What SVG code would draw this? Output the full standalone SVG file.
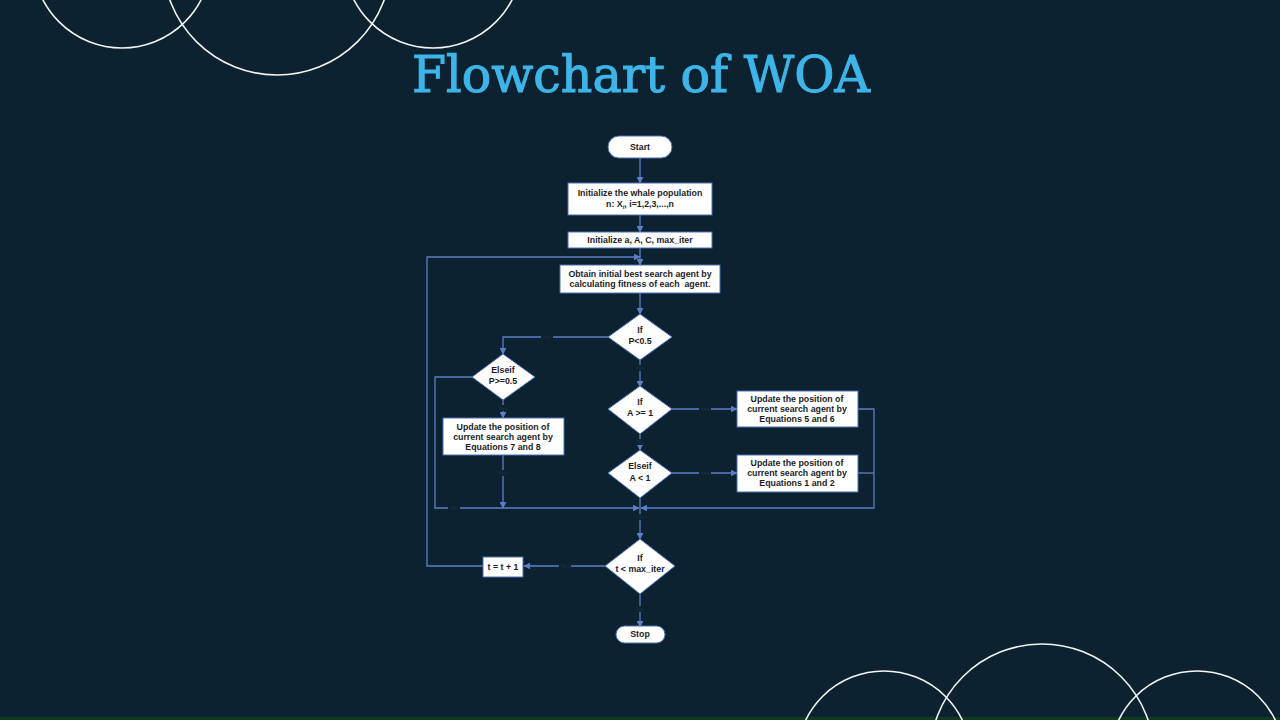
<svg xmlns="http://www.w3.org/2000/svg" width="1280" height="720" viewBox="0 0 1280 720">
<defs>
<style>
.bg{fill:#0c2230}
.deco{fill:none;stroke:#f2f4f6;stroke-width:1.6}
.title{font-family:"DejaVu Serif","Liberation Serif",serif;font-size:50px;fill:#3db5e8;stroke:#3db5e8;stroke-width:1.1}
.node{fill:#ffffff;stroke:#4a6fb5;stroke-width:1}
.t{font-family:"Liberation Sans",Arial,sans-serif;font-size:8.8px;font-weight:bold;fill:#1c1c28;text-anchor:middle;white-space:pre}
.edge{fill:none;stroke:#5b7fc6;stroke-width:1.3}
.lbl{font-family:"Liberation Sans",Arial,sans-serif;font-size:6px;fill:#1d3248;text-anchor:middle}
.lblbg{fill:#0c2230}
</style>
<marker id="ah" viewBox="0 0 10 10" refX="9" refY="5" markerWidth="7" markerHeight="7" markerUnits="userSpaceOnUse" orient="auto">
<path d="M0,0 L10,5 L0,10 z" fill="#5b7fc6"/>
</marker>
</defs>
<rect class="bg" x="0" y="0" width="1280" height="720"/>
<rect x="0" y="717" width="1280" height="3" fill="#0f3a1c"/>
<g id="decor">
<circle class="deco" cx="122" cy="-41" r="89"/>
<circle class="deco" cx="277" cy="-39" r="114"/>
<circle class="deco" cx="433" cy="-41" r="89"/>
<circle class="deco" cx="884" cy="758" r="87"/>
<circle class="deco" cx="1042" cy="756" r="112"/>
<circle class="deco" cx="1197" cy="758" r="87"/>
</g>
<text class="title" x="641" y="92" text-anchor="middle" textLength="458" lengthAdjust="spacingAndGlyphs">Flowchart of WOA</text>
<g id="connectors">
<line class="edge" x1="640" y1="158" x2="640" y2="183" marker-end="url(#ah)"/>
<line class="edge" x1="640" y1="215" x2="640" y2="232" marker-end="url(#ah)"/>
<line class="edge" x1="640" y1="248" x2="640" y2="265" marker-end="url(#ah)"/>
<line class="edge" x1="640" y1="293" x2="640" y2="314" marker-end="url(#ah)"/>
<line class="edge" x1="640" y1="360" x2="640" y2="387" marker-end="url(#ah)"/>
<line class="edge" x1="640" y1="434" x2="640" y2="450" marker-end="url(#ah)"/>
<polyline class="edge" points="608,337 503,337 503,354" marker-end="url(#ah)"/>
<line class="edge" x1="672" y1="409" x2="737" y2="409" marker-end="url(#ah)"/>
<line class="edge" x1="672" y1="473" x2="737" y2="473" marker-end="url(#ah)"/>
<polyline class="edge" points="858,409 874,409 874,508 641,508" marker-end="url(#ah)"/>
<line class="edge" x1="858" y1="473" x2="874" y2="473"/>
<line class="edge" x1="503" y1="400" x2="503" y2="418" marker-end="url(#ah)"/>
<polyline class="edge" points="472,377 435,377 435,508 639,508" marker-end="url(#ah)"/>
<line class="edge" x1="503" y1="455" x2="503" y2="508" marker-end="url(#ah)"/>
<line class="edge" x1="640" y1="498" x2="640" y2="539" marker-end="url(#ah)"/>
<line class="edge" x1="605" y1="566" x2="524" y2="566" marker-end="url(#ah)"/>
<line class="edge" x1="640" y1="594" x2="640" y2="627" marker-end="url(#ah)"/>
<polyline class="edge" points="483,566 427,566 427,257 640,257" marker-end="url(#ah)"/>
<g>
<rect class="lblbg" x="541" y="334" width="12" height="6"/><text class="lbl" x="547" y="339">No</text>
<rect class="lblbg" x="634" y="365" width="12" height="6"/><text class="lbl" x="640" y="370">Yes</text>
<rect class="lblbg" x="699" y="406" width="12" height="6"/><text class="lbl" x="705" y="411">Yes</text>
<rect class="lblbg" x="634" y="439" width="12" height="6"/><text class="lbl" x="640" y="444">No</text>
<rect class="lblbg" x="699" y="470" width="12" height="6"/><text class="lbl" x="705" y="475">Yes</text>
<rect class="lblbg" x="497" y="405" width="12" height="6"/><text class="lbl" x="503" y="410">Yes</text>
<rect class="lblbg" x="497" y="470" width="12" height="6"/><text class="lbl" x="503" y="475">Yes</text>
<rect class="lblbg" x="448" y="505" width="12" height="6"/><text class="lbl" x="454" y="510">No</text>
<rect class="lblbg" x="634" y="514" width="12" height="6"/><text class="lbl" x="640" y="519">No</text>
<rect class="lblbg" x="559" y="563" width="12" height="6"/><text class="lbl" x="565" y="568">Yes</text>
<rect class="lblbg" x="634" y="606" width="12" height="6"/><text class="lbl" x="640" y="611">No</text>
</g>
</g>
<g id="start"><rect class="node" x="608" y="136" width="64" height="22" rx="11"/><text class="t" x="640" y="150">Start</text></g>
<g id="init-pop"><rect class="node" x="568" y="183" width="144" height="32"/><text class="t" x="640" y="196">Initialize the whale population</text><text class="t" x="640" y="207">n: X<tspan font-size="6" dy="2">i</tspan><tspan dy="-2">, i=1,2,3,...,n</tspan></text></g>
<g id="init-params"><rect class="node" x="568" y="232" width="144" height="16"/><text class="t" x="640" y="243">Initialize a, A, C, max_iter</text></g>
<g id="obtain"><rect class="node" x="560" y="265" width="160" height="28"/><text class="t" x="640" y="277">Obtain initial best search agent by</text><text class="t" x="640" y="287">calculating fitness of each  agent.</text></g>
<g id="if-p"><polygon class="node" points="640,314 672,337 640,360 608,337"/><text class="t" x="640" y="333">If</text><text class="t" x="640" y="344">P&lt;0.5</text></g>
<g id="if-a"><polygon class="node" points="640,386 672,409 640,434 608,409"/><text class="t" x="640" y="405">If</text><text class="t" x="640" y="416">A &gt;= 1</text></g>
<g id="elseif-a"><polygon class="node" points="640,450 672,473 640,498 608,473"/><text class="t" x="640" y="469">Elseif</text><text class="t" x="640" y="481">A &lt; 1</text></g>
<g id="eq56"><rect class="node" x="737" y="391" width="121" height="36"/><text class="t" x="797" y="402">Update the position of</text><text class="t" x="797" y="412">current search agent by</text><text class="t" x="797" y="422">Equations 5 and 6</text></g>
<g id="eq12"><rect class="node" x="737" y="455" width="121" height="37"/><text class="t" x="797" y="466">Update the position of</text><text class="t" x="797" y="476">current search agent by</text><text class="t" x="797" y="486">Equations 1 and 2</text></g>
<g id="elseif-p"><polygon class="node" points="503,354 535,377 503,400 472,377"/><text class="t" x="503" y="373">Elseif</text><text class="t" x="503" y="384">P&gt;=0.5</text></g>
<g id="eq78"><rect class="node" x="443" y="418" width="121" height="37"/><text class="t" x="503" y="430">Update the position of</text><text class="t" x="503" y="440">current search agent by</text><text class="t" x="503" y="450">Equations 7 and 8</text></g>
<g id="if-t"><polygon class="node" points="640,539 675,566 640,594 605,566"/><text class="t" x="640" y="561">If</text><text class="t" x="640" y="572">t &lt; max_iter</text></g>
<g id="incr"><rect class="node" x="483" y="557" width="40" height="20"/><text class="t" x="503" y="570">t = t + 1</text></g>
<g id="stop"><rect class="node" x="616" y="626" width="49" height="17" rx="8.5"/><text class="t" x="640" y="637">Stop</text></g>
</svg>
